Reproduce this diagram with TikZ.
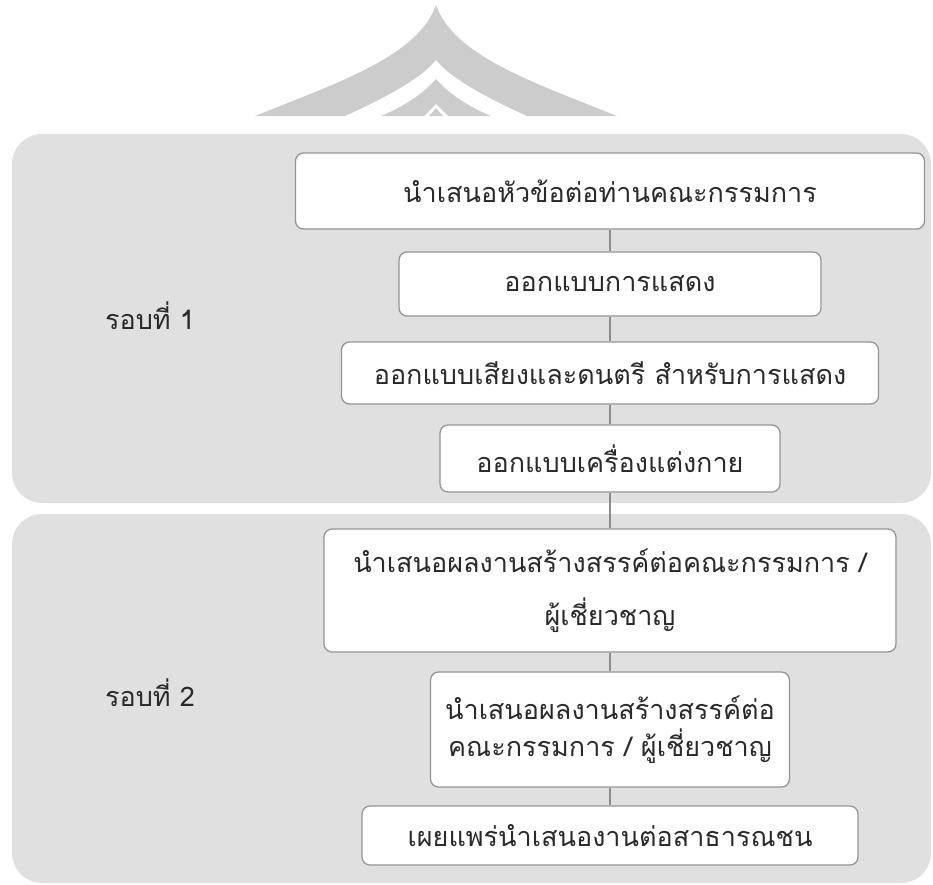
\documentclass[tikz,border=0pt]{standalone}
\usepackage{fontspec}
\newfontfamily\thaifont[Script=Thai]{Loma}
\definecolor{panelgray}{HTML}{E0E0E0}
\definecolor{markgray}{HTML}{CCCCCC}
\definecolor{edgegray}{HTML}{959595}
\definecolor{linkgray}{HTML}{8C8C8C}
\definecolor{inkcol}{HTML}{2A2A2A}
\tikzset{
  panelbox/.style={fill=panelgray, rounded corners=30pt},
  stepbox/.style={draw=edgegray, line width=1.3pt, fill=white, rounded corners=8pt,
    inner sep=0pt, font=\thaifont\fontsize{27}{37}\selectfont, text=inkcol, align=center},
  roundlabel/.style={inner sep=0pt, font=\thaifont\fontsize{27}{37}\selectfont, text=inkcol},
  conn/.style={draw=linkgray, line width=1.2pt}
}
\begin{document}
\begin{tikzpicture}[x=1pt,y=-1pt]
\useasboundingbox (0,0) rectangle (933,884);
% watermark roof
\fill[markgray] (255,116) .. controls (345,80) and (418,55) .. (436,5)
  .. controls (454,55) and (527,80) .. (617,116) -- (527,116)
  .. controls (492,100) and (452,80) .. (436,60)
  .. controls (420,80) and (380,100) .. (345,116) -- cycle;
\fill[markgray] (381,116) .. controls (400,108) and (420,97) .. (436,79)
  .. controls (452,97) and (472,108) .. (491,116) -- (448,116)
  -- (436,104) -- (424,116) -- cycle;
\fill[markgray] (429,116) -- (436,108) -- (443,116) -- cycle;
% panels
\fill[panelbox] (12,134) rectangle (931,503);
\fill[panelbox] (12,514) rectangle (931,883);
% labels
\node[roundlabel] (r1) at (150,316) {รอบที่ 1};
\node[roundlabel] (r2) at (150,693) {รอบที่ 2};
% steps
\node[stepbox, minimum width=629pt, minimum height=76pt] (b1) at (610,191) {นำเสนอหัวข้อต่อท่านคณะกรรมการ};
\node[stepbox, minimum width=422pt, minimum height=64pt] (b2) at (610,284) {ออกแบบการแสดง};
\node[stepbox, minimum width=537pt, minimum height=62pt] (b3) at (610,373) {ออกแบบเสียงและดนตรี สำหรับการแสดง};
\node[stepbox, minimum width=340pt, minimum height=67pt] (b4) at (610,458.5) {ออกแบบเครื่องแต่งกาย};
\node[stepbox, minimum width=572pt, minimum height=123pt] (b5) at (610,590.5) {นำเสนอผลงานสร้างสรรค์ต่อคณะกรรมการ /\\[16pt]ผู้เชี่ยวชาญ};
\node[stepbox, minimum width=359pt, minimum height=115pt] (b6) at (610,729.5) {นำเสนอผลงานสร้างสรรค์ต่อ\\คณะกรรมการ / ผู้เชี่ยวชาญ};
\node[stepbox, minimum width=496pt, minimum height=59pt] (b7) at (610,835.5) {เผยแพร่นำเสนองานต่อสาธารณชน};
% connectors
\draw[conn] (b1) -- (b2);
\draw[conn] (b2) -- (b3);
\draw[conn] (b3) -- (b4);
\draw[conn] (b4) -- (b5);
\draw[conn] (b5) -- (b6);
\draw[conn] (b6) -- (b7);
\end{tikzpicture}
\end{document}
